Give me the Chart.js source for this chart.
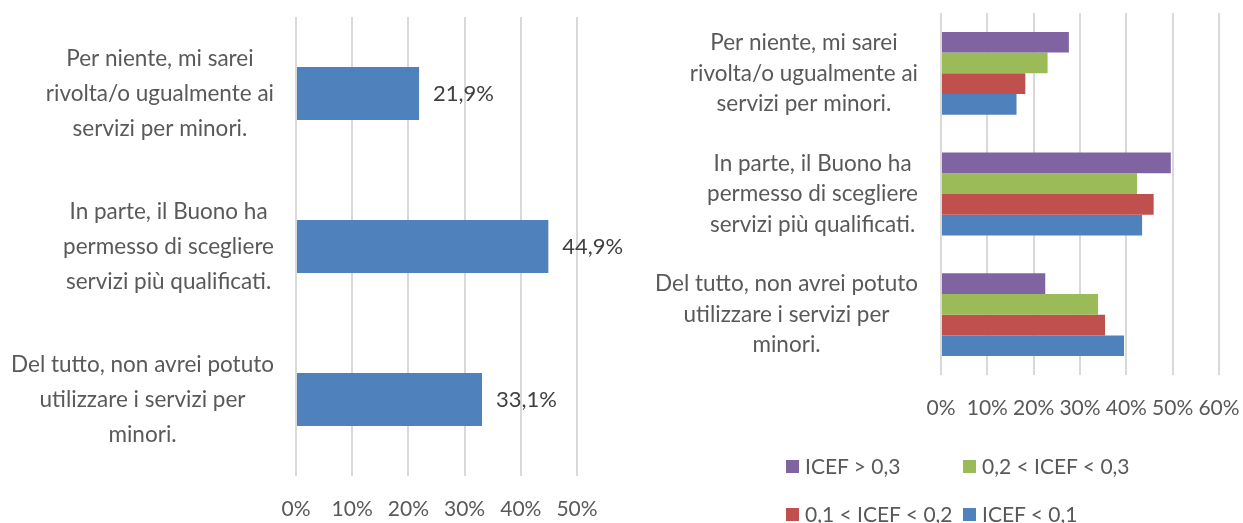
<!DOCTYPE html>
<html>
<head>
<meta charset="utf-8">
<script src="https://cdn.jsdelivr.net/npm/chart.js@4"></script>
<style>
  body { margin: 0; background: #fff; }
  #wrap { position: relative; width: 1243px; height: 523px; overflow: hidden; }
  #left { position: absolute; left: 0; top: 0; }
  #right { position: absolute; left: 620px; top: 0; }
  #legend {
    position: absolute; left: 786px; top: 441px;
    display: grid; grid-template-columns: 177px auto; grid-auto-rows: 48px;
    align-items: center;
    font: 21px Lato, "Liberation Sans", sans-serif; color: #595959;
  }
  #legend span.box { display: inline-block; width: 13px; height: 13px; margin-right: 6px; vertical-align: middle; position: relative; top: -2px; }
  #legend div { white-space: nowrap; }
</style>
</head>
<body>
<div id="wrap">
  <canvas id="left" width="632" height="523"></canvas>
  <canvas id="right" width="623" height="523"></canvas>
  <div id="legend"></div>
</div>
<script>
// Data
const categories = [
  ['Per niente, mi sarei', 'rivolta/o ugualmente ai', 'servizi per minori.'],
  ['In parte, il Buono ha', 'permesso di scegliere', 'servizi più qualificati.'],
  ['Del tutto, non avrei potuto', 'utilizzare i servizi per', 'minori.']
];
const totalValues = [21.9, 44.9, 33.1];

const seriesNames = ['ICEF > 0,3', '0,2 < ICEF < 0,3', '0,1 < ICEF < 0,2', 'ICEF < 0,1'];
const seriesColors = ['#8064A2', '#9BBB59', '#C0504D', '#4F81BD'];
const icefOver03 = [27.6, 49.6, 22.5];
const icef02to03 = [23.0, 42.3, 33.9];
const icef01to02 = [18.2, 45.9, 35.4];
const icefUnder01 = [16.3, 43.4, 39.5];
const seriesValues = [icefOver03, icef02to03, icef01to02, icefUnder01];

const leftTicks = [0, 10, 20, 30, 40, 50];
const rightTicks = [0, 10, 20, 30, 40, 50, 60];

const FONT = 'Lato, "Liberation Sans", sans-serif';
const TEXT = '#595959';

// Draw wrapped category labels: block right aligned, lines centred
const wrappedLabels = {
  id: 'wrappedLabels',
  afterDraw(chart, args, opts) {
    const ctx = chart.ctx;
    const yScale = chart.scales.y;
    const right = chart.chartArea.left - opts.gap;
    ctx.save();
    ctx.font = opts.size + 'px ' + FONT;
    ctx.fillStyle = TEXT;
    ctx.textAlign = 'center';
    ctx.textBaseline = 'middle';
    chart.data.labels.forEach((lines, i) => {
      const widest = Math.max(...lines.map(l => ctx.measureText(l).width));
      const cx = right - widest / 2;
      const cy = yScale.getPixelForValue(i);
      const top = cy - (lines.length - 1) * opts.lineHeight / 2;
      lines.forEach((line, j) => ctx.fillText(line, cx, top + j * opts.lineHeight));
    });
    ctx.restore();
  }
};

// Value labels beside the bars
const valueLabels = {
  id: 'valueLabels',
  afterDatasetsDraw(chart) {
    const ctx = chart.ctx;
    ctx.save();
    ctx.font = '22px ' + FONT;
    ctx.fillStyle = '#404040';
    ctx.textAlign = 'left';
    ctx.textBaseline = 'middle';
    chart.getDatasetMeta(0).data.forEach((bar, i) => {
      const v = chart.data.datasets[0].data[i];
      ctx.fillText(v.toFixed(1).replace('.', ',') + '%', bar.x + 14, bar.y);
    });
    ctx.restore();
  }
};

function xScale(max, ticks, height) {
  return {
    min: 0,
    max: max,
    afterBuildTicks: s => { s.ticks = ticks.map(v => ({ value: v })); },
    afterFit: s => {
      s.height = height;
      // no extra room for the first/last tick label
      s.paddingLeft = 0;
      s.paddingRight = 0;
    },
    grid: { color: '#d9d9d9', lineWidth: 2, drawTicks: false },
    border: { display: false },
    ticks: {
      padding: 21,
      color: TEXT,
      autoSkip: false,
      maxRotation: 0,
      minRotation: 0,
      font: { family: FONT, size: 21 },
      callback: v => v + '%'
    }
  };
}

function yScale(width) {
  return {
    afterFit: s => { s.width = width; },
    grid: { display: false },
    border: { display: false },
    ticks: { display: false }
  };
}

new Chart(document.getElementById('left'), {
  type: 'bar',
  data: {
    labels: categories,
    datasets: [{
      data: totalValues,
      backgroundColor: '#4F81BD',
      borderWidth: 0,
      categoryPercentage: 0.348,
      barPercentage: 1
    }]
  },
  options: {
    indexAxis: 'y',
    responsive: false,
    animation: false,
    layout: { padding: { top: 17, right: 55, bottom: 0, left: 0 } },
    scales: { x: xScale(50, leftTicks, 47), y: yScale(296) },
    plugins: {
      legend: { display: false },
      tooltip: { enabled: false },
      wrappedLabels: { gap: 22, lineHeight: 35, size: 22.5 }
    }
  },
  plugins: [wrappedLabels, valueLabels]
});

new Chart(document.getElementById('right'), {
  type: 'bar',
  data: {
    labels: categories,
    datasets: seriesNames.map((name, i) => ({
      label: name,
      data: seriesValues[i],
      backgroundColor: seriesColors[i],
      borderWidth: 0,
      categoryPercentage: 0.687,
      barPercentage: 1
    }))
  },
  options: {
    indexAxis: 'y',
    responsive: false,
    animation: false,
    layout: { padding: { top: 13, right: 24, bottom: 108, left: 0 } },
    scales: { x: xScale(60, rightTicks, 40), y: yScale(321) },
    plugins: {
      legend: { display: false },
      tooltip: { enabled: false },
      wrappedLabels: { gap: 23, lineHeight: 30.5, size: 22.5 }
    }
  },
  plugins: [wrappedLabels]
});

// Legend in a 2x2 grid
const legendEl = document.getElementById('legend');
seriesNames.forEach((name, i) => {
  const item = document.createElement('div');
  item.innerHTML = `<span class="box" style="background:${seriesColors[i]}"></span>${name.replace(/</g, '&lt;').replace(/>/g, '&gt;')}`;
  legendEl.appendChild(item);
});
</script>
</body>
</html>
